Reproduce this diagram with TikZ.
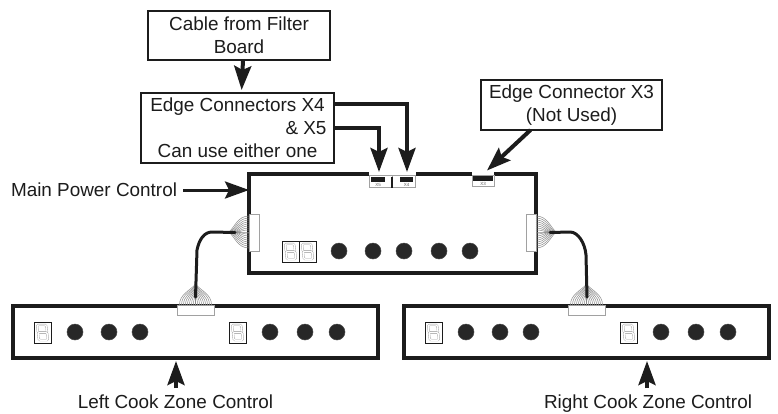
\documentclass[tikz,border=0pt]{standalone}
\usepackage{fontspec}
\setmainfont{Liberation Sans}
\usetikzlibrary{arrows.meta}
\definecolor{ink}{HTML}{1C1C1C}
\definecolor{wire}{HTML}{8A8A8A}
\tikzset{
  txt/.style={font=\fontsize{18.9}{23}\selectfont,text=ink,align=center,inner sep=0pt,outer sep=0pt},
  callout/.style={txt,draw=ink,line width=2.6pt,fill=white,minimum width=#1},
  board/.style={draw=ink,line width=3.6pt,inner sep=0pt,outer sep=0pt,fill=white},
  arr/.style={draw=ink,line width=4pt,-{Stealth[length=24pt,width=17pt,inset=4pt]}},
  knob/.style={circle,fill=ink!95,draw=ink!80,line width=.5pt,minimum size=16pt,inner sep=0pt},
  socket/.style={draw=wire!80,line width=1pt,fill=white,inner sep=0pt,outer sep=0pt},
  cell/.style={draw=ink,line width=.9pt,fill=white,inner sep=0pt,outer sep=0pt,minimum width=17pt,minimum height=21pt},
  seg/.style={draw=wire!80,line width=.4pt,double=white,double distance=1.3pt,rounded corners=1.2pt},
  fan/.style={draw=wire,line width=.5pt},
  conbar/.style={fill=ink,inner sep=0pt,outer sep=0pt},
  tiny/.style={font=\fontsize{4.5}{5}\selectfont,text=wire!70!black,inner sep=0pt}
}
\newcommand{\segdigit}[2]{%
  \begin{scope}[shift={(#1,#2)},xslant=-0.12]
    \draw[seg] (-4.6,-7.6) rectangle (4.6,0);
    \draw[seg] (-4.6,0) rectangle (4.6,7.6);
  \end{scope}}
\begin{document}
\begin{tikzpicture}[x=1pt,y=-1pt]
\path[use as bounding box,fill=white] (0,0) rectangle (778,413);

% boards
\node[board,minimum width=287pt,minimum height=99pt] (main) at (392.5,223.5) {};
\node[board,minimum width=365pt,minimum height=52pt] (left) at (195.5,332) {};
\node[board,minimum width=365pt,minimum height=52pt] (right) at (586.5,332) {};

% callouts
\node[callout=182pt,minimum height=49pt] (cable) at (239,35.5) {Cable from Filter\\Board};
\node[callout=193pt,minimum height=70pt] (edge) at (237.5,128) {Edge Connectors X4\\\hspace*{137pt}\& X5\\Can use either one};
\node[callout=181pt,minimum height=50pt] (xthree) at (571.5,105) {Edge Connector X3\\(Not Used)};

% edge connectors on the main board
\fill[white] (369,171) rectangle (416,177);
\fill[white] (472,171) rectangle (494,177);
\node[socket,minimum width=23pt,minimum height=12pt] (xfive) at (380.5,181) {};
\node[socket,minimum width=23pt,minimum height=12pt] (xfour) at (403.5,181) {};
\node[socket,minimum width=22pt,minimum height=11pt] (xthreec) at (483,181) {};
\node[conbar,minimum width=14pt,minimum height=5pt] at (378,179.5) {};
\node[conbar,minimum width=13pt,minimum height=5pt] at (406.5,179.5) {};
\node[conbar,minimum width=20pt,minimum height=5pt] at (483,178) {};
\node[conbar,minimum width=2.6pt,minimum height=11pt] at (392,182) {};
\node[tiny] at (378,184.8) {X5};
\node[tiny] at (406.5,184.8) {X4};
\node[tiny] at (483,183.6) {X3};

% labels
\node[txt,anchor=base east] (mainlabel) at (177,196) {Main Power Control};
\node[txt,anchor=base] (leftlabel) at (175.5,408.5) {Left Cook Zone Control};
\node[txt,anchor=base] (rightlabel) at (648,408.5) {Right Cook Zone Control};

% arrows
\draw[arr,shorten >=3pt] ([xshift=4pt]cable.south) -- ([xshift=4pt]edge.north);
\draw[arr,shorten >=3pt] ([yshift=24pt]edge.east) -| ([xshift=3.5pt]xfour.north);
\draw[arr,shorten >=3pt] (edge.east) -| ([xshift=-1.5pt]xfive.north);
\draw[arr] ([xshift=-41pt]xthree.south) -- ([yshift=5pt,xshift=4pt]xthreec.north);
\coordinate (ms) at (183,190);
\draw[arr,line width=3pt] (ms) -- (main.west |- ms);
\coordinate (la) at (176,388);
\coordinate (ra) at (647,388);
\draw[arr,shorten >=3pt] (la) -- (la |- left.south);
\draw[arr,shorten >=3pt] (ra) -- (ra |- right.south);

% ribbon sockets
\node[socket,minimum width=10pt,minimum height=37pt] (ml) at (254,232.5) {};
\node[socket,minimum width=10pt,minimum height=37pt] (mr) at (531,232.5) {};
\node[socket,minimum width=37pt,minimum height=10pt] (lb) at (195.5,310.5) {};
\node[socket,minimum width=37pt,minimum height=10pt] (rb) at (586.5,310.5) {};

% fans
\foreach \d in {2,4,6,8,10,12,14,16}{
  \pgfmathsetmacro\e{(16-\d)*.55}
  \foreach \s in {-1,1}{
    \pgfmathsetmacro\q{\s*\d}
    \pgfmathsetmacro\w{\s*\d*.35}
    \draw[fan] (249,232+\q) .. controls (238+\e*.6,232+\q) and (235+\e,232+\w) .. (229+\e,232);
    \draw[fan] (536,232+\q) .. controls (547-\e*.6,232+\q) and (550-\e,232+\w) .. (556-\e,232);
    \draw[fan] (195.5+\q,305) .. controls (195.5+\q,294+\e*.6) and (195.5+\w,291+\e) .. (195.5,284+\e);
    \draw[fan] (586.5+\q,305) .. controls (586.5+\q,294+\e*.6) and (586.5+\w,291+\e) .. (586.5,284+\e);
  }
}
\draw[fan] (ml.west) -- (230,232);
\draw[fan] (mr.east) -- (555,232);
\draw[fan] (lb.north) -- (195.5,284);
\draw[fan] (rb.north) -- (586.5,284);

% ribbon cables
\draw[ink,line width=3pt,line cap=round] (ml.west) ++(-14,0) -- (212,232) .. controls (204,232) and (199,240) .. (197,250) -- (195.5,297);
\draw[ink,line width=3pt,line cap=round] (mr.east) ++(14,0) -- (570,232) .. controls (578,232) and (585,243) .. (586,255) -- (587,297);

% displays
\node[cell] (md1) at (290.5,251.5) {};
\node[cell] (md2) at (307.5,251.5) {};
\segdigit{290.5}{251.5}\segdigit{307.5}{251.5}
\node[cell] (ld1) at (42.5,332.5) {};
\node[cell] (ld2) at (237.5,332.5) {};
\segdigit{42.5}{332.5}\segdigit{237.5}{332.5}
\node[cell] (rd1) at (433.5,332.5) {};
\node[cell] (rd2) at (628.5,332.5) {};
\segdigit{433.5}{332.5}\segdigit{628.5}{332.5}

% knobs
\foreach \x in {339,373,404,439,470} \node[knob] at (\x,251) {};
\foreach \x in {75,109,140,270,305,337} \node[knob] at (\x,332) {};
\foreach \x in {466,500,531,661,696,728} \node[knob] at (\x,332) {};
\end{tikzpicture}
\end{document}
